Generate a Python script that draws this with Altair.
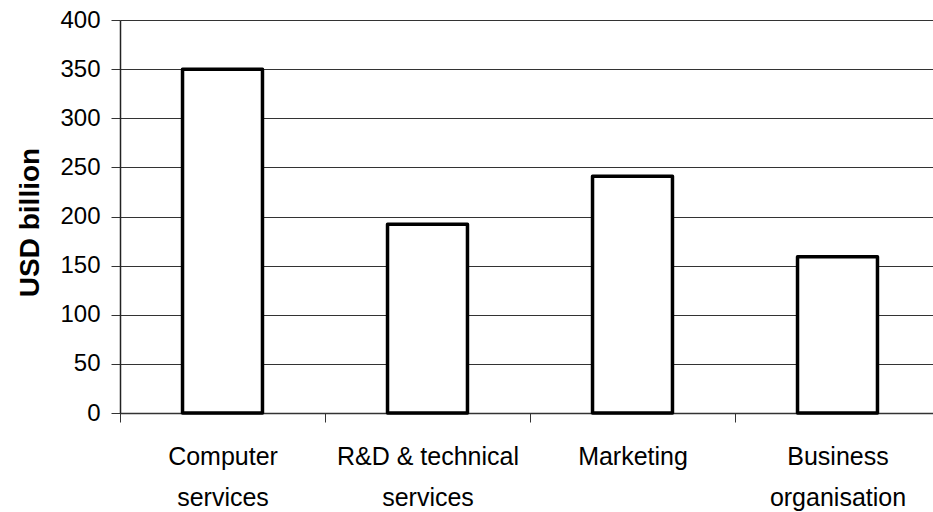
import altair as alt
import pandas as pd

# Service categories ("|" marks the line break in the axis label)
categories = ["Computer|services", "R&D & technical|services", "Marketing", "Business|organisation"]
values = [350, 192, 241, 159]
y_ticks = [0, 50, 100, 150, 200, 250, 300, 350, 400]

df = pd.DataFrame({"category": categories, "value": values})

FONT = "Liberation Sans"

bars = alt.Chart(df).mark_bar(
    fill="white",
    stroke="black",
    strokeWidth=3.5,
    strokeJoin="round",
    width=alt.RelativeBandSize(0.39),
).encode(
    x=alt.X(
        "category:N",
        sort=categories,
        scale=alt.Scale(range=[0, 820], paddingInner=0, paddingOuter=0),
        axis=alt.Axis(
            title=None,
            labelExpr="split(datum.label, '|')",
            labelFont=FONT,
            labelFontSize=25,
            labelColor="black",
            labelAngle=0,
            labelBaseline="alphabetic",
            labelLineHeight=41,
            labelPadding=42,
            labelLimit=400,
            tickBand="extent",
            tickSize=9,
            tickColor="#333333",
            domainColor="#333333",
            domainWidth=1.5,
            grid=False,
        ),
    ),
    y=alt.Y(
        "value:Q",
        scale=alt.Scale(domain=[0, 400], nice=False),
        axis=alt.Axis(
            title="USD billion",
            values=y_ticks,
            titleFont=FONT,
            titleFontSize=28,
            titleFontWeight="bold",
            titleColor="black",
            titleAngle=270,
            titleAlign="center",
            titleBaseline="middle",
            titleX=-90,
            titleY=202,
            labelFont=FONT,
            labelFontSize=24,
            labelColor="black",
            labelPadding=11,
            tickSize=9,
            tickColor="#333333",
            domainColor="#222222",
            domainWidth=1.5,
            grid=True,
            gridColor="#333333",
            gridWidth=1.2,
        ),
    ),
)

chart = bars.properties(
    width=813,
    height=393,
    autosize=alt.AutoSizeParams(type="none"),
    padding={"left": 120, "top": 20, "right": 0, "bottom": 99},
    background="white",
).configure_view(strokeWidth=0)

chart.save("out.html", embed_options={"renderer": "svg", "actions": False})
